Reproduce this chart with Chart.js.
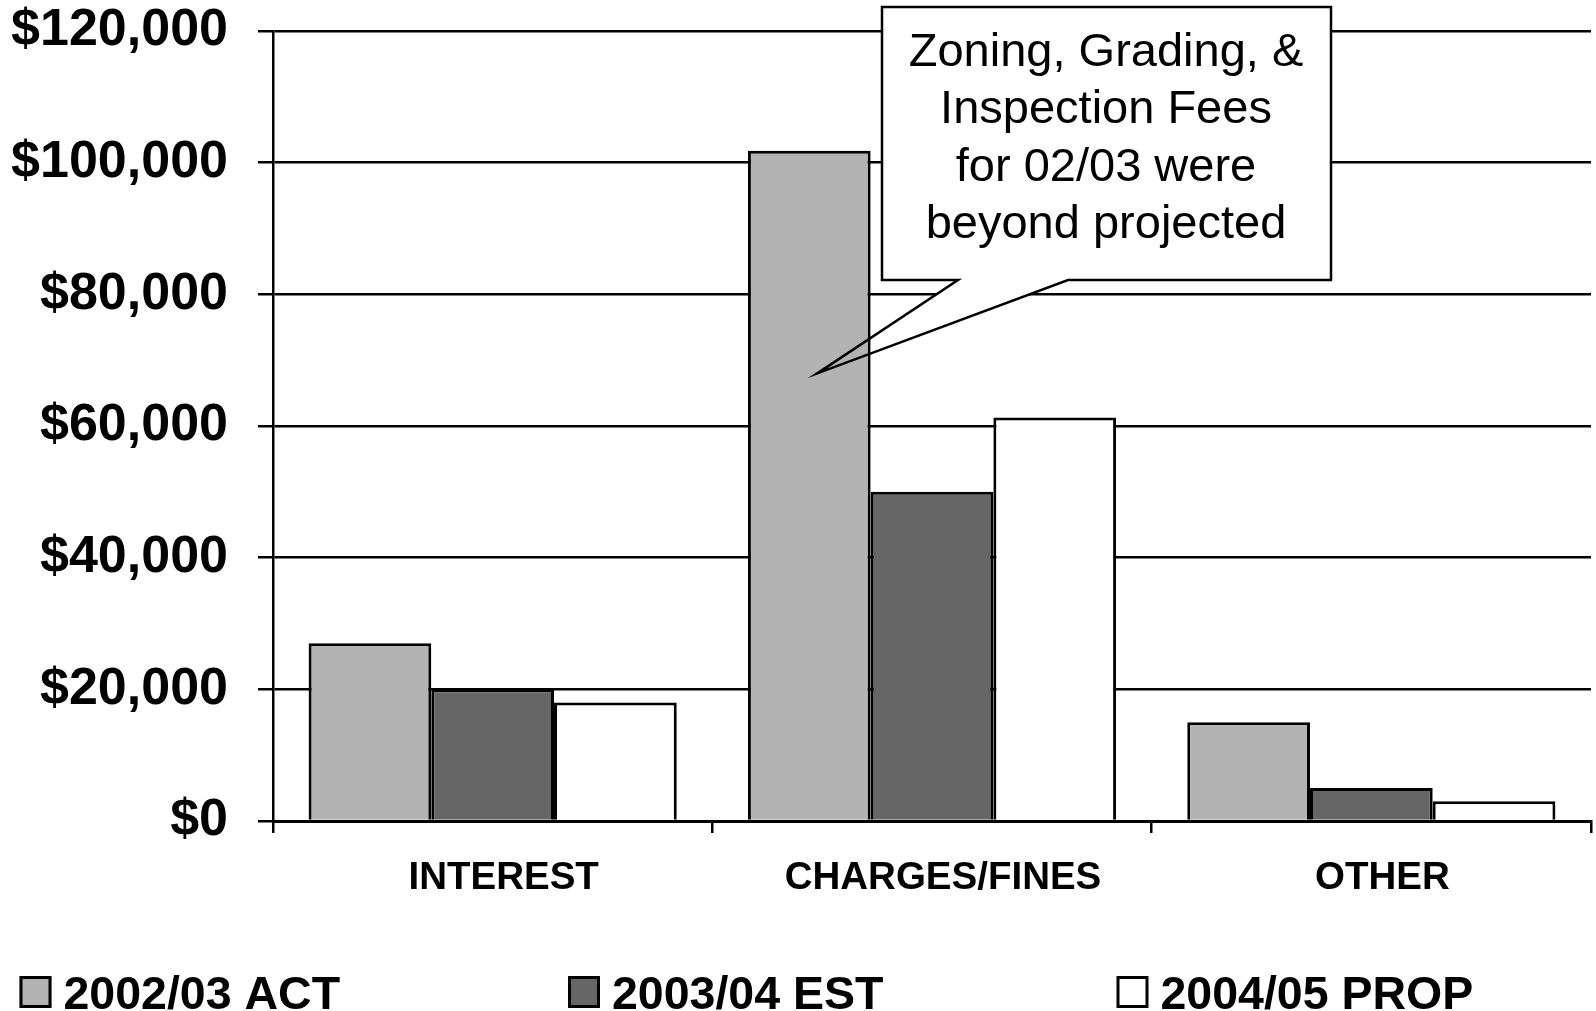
<!DOCTYPE html>
<html>
<head>
<meta charset="utf-8">
<script src="https://cdn.jsdelivr.net/npm/chart.js@4/dist/chart.umd.min.js"></script>
<style>
  html, body { margin: 0; padding: 0; background: #fff; }
  #wrap { width: 1596px; height: 1011px; }
</style>
</head>
<body>
<div id="wrap"><canvas id="chart" width="1596" height="1011"></canvas></div>
<script>
// Revenue by source, three fiscal years
const categories = ["INTEREST", "CHARGES/FINES", "OTHER"];
const seriesNames = ["2002/03 ACT", "2003/04 EST", "2004/05 PROP"];
const act0203 = [27000, 101800, 15000];
const est0304 = [20000, 50000, 5000];
const prop0405 = [18000, 61300, 3000];
const yTicks = [0, 20000, 40000, 60000, 80000, 100000, 120000];
const calloutLines = ["Zoning, Grading, &", "Inspection Fees", "for 02/03 were", "beyond projected"];
const calloutTipValue = 68000;

const FONT = '"Liberation Sans", Arial, Helvetica, sans-serif';
const fills = ["#b3b3b3", "#666666", "#ffffff"];

const mkSet = (label, data, color) => ({
  label, data,
  backgroundColor: color,
  borderColor: "#000",
  borderWidth: 3,
  borderSkipped: "bottom",
  barPercentage: 1.0,
  categoryPercentage: 0.838,
});

// callout box shape, tip anchored on the 02/03 charges bar
function calloutPath(chart) {
  const ctx = chart.ctx;
  const bar = chart.getDatasetMeta(0).data[1];
  const tipX = bar.x + 8;
  const tipY = chart.scales.y.getPixelForValue(calloutTipValue);
  const L = 882, T = 7, R = 1331, B = 280;
  ctx.beginPath();
  ctx.moveTo(L, T);
  ctx.lineTo(R, T);
  ctx.lineTo(R, B);
  ctx.lineTo(1068, B);
  ctx.lineTo(tipX, tipY);
  ctx.lineTo(958, B);
  ctx.lineTo(L, B);
  ctx.closePath();
}

const callout = {
  id: "callout",
  beforeDatasetsDraw(chart) {
    const ctx = chart.ctx;
    ctx.save();
    calloutPath(chart);
    ctx.fillStyle = "#fff";
    ctx.fill();
    ctx.restore();
  },
  afterDatasetsDraw(chart) {
    const ctx = chart.ctx;
    ctx.save();
    calloutPath(chart);
    ctx.lineWidth = 2.5;
    ctx.strokeStyle = "#000";
    ctx.lineJoin = "miter";
    ctx.stroke();
    ctx.fillStyle = "#000";
    ctx.font = `47px ${FONT}`;
    ctx.textAlign = "center";
    ctx.textBaseline = "alphabetic";
    calloutLines.forEach((t, i) => ctx.fillText(t, 1106, 65.5 + i * 57.5));
    ctx.restore();
  },
};

// legend spread evenly along the bottom
const bottomLegend = {
  id: "bottomLegend",
  afterDraw(chart) {
    const ctx = chart.ctx;
    ctx.save();
    ctx.font = `bold 46.5px ${FONT}`;
    ctx.textAlign = "left";
    ctx.textBaseline = "alphabetic";
    chart.data.datasets.forEach((ds, i) => {
      const x = 19.5 + i * 548.5;
      ctx.fillStyle = ds.backgroundColor;
      ctx.fillRect(x, 976, 32, 32);
      ctx.lineWidth = 3;
      ctx.strokeStyle = "#000";
      ctx.strokeRect(x + 1.5, 977.5, 29, 29);
      ctx.fillStyle = "#000";
      ctx.fillText(ds.label, x + 44, 1008.5);
    });
    ctx.restore();
  },
};

new Chart(document.getElementById("chart"), {
  type: "bar",
  data: {
    labels: categories,
    datasets: [
      mkSet(seriesNames[0], act0203, fills[0]),
      mkSet(seriesNames[1], est0304, fills[1]),
      mkSet(seriesNames[2], prop0405, fills[2]),
    ],
  },
  options: {
    responsive: false,
    animation: false,
    layout: { padding: { top: 31, right: 5, bottom: 100, left: 0 } },
    plugins: {
      legend: { display: false },
      tooltip: { enabled: false },
    },
    scales: {
      x: {
        afterFit: (s) => { s.height = 90; s.paddingLeft = 0; s.paddingRight = 0; },
        border: { display: true, color: "#000", width: 3 },
        grid: {
          offset: true,
          drawOnChartArea: false,
          drawTicks: true,
          tickLength: 12,
          color: "#000",
          lineWidth: 2.5,
        },
        ticks: {
          color: "#000",
          padding: 22,
          labelOffset: 11,
          maxRotation: 0,
          font: { family: FONT, size: 38.5, weight: "bold" },
        },
      },
      y: {
        min: 0,
        max: 120000,
        afterFit: (s) => { s.width = 273; s.paddingTop = 0; s.paddingBottom = 0; },
        afterBuildTicks: (s) => { s.ticks = yTicks.map(v => ({ value: v })); },
        border: { display: true, color: "#000", width: 2.5 },
        grid: {
          color: "#000",
          lineWidth: 2.5,
          drawTicks: true,
          tickLength: 15,
        },
        ticks: {
          color: "#000",
          padding: 30,
          font: { family: FONT, size: 52, weight: "bold" },
          callback: (v) => "$" + Number(v).toLocaleString("en-US"),
        },
      },
    },
  },
  plugins: [callout, bottomLegend],
});
</script>
</body>
</html>
